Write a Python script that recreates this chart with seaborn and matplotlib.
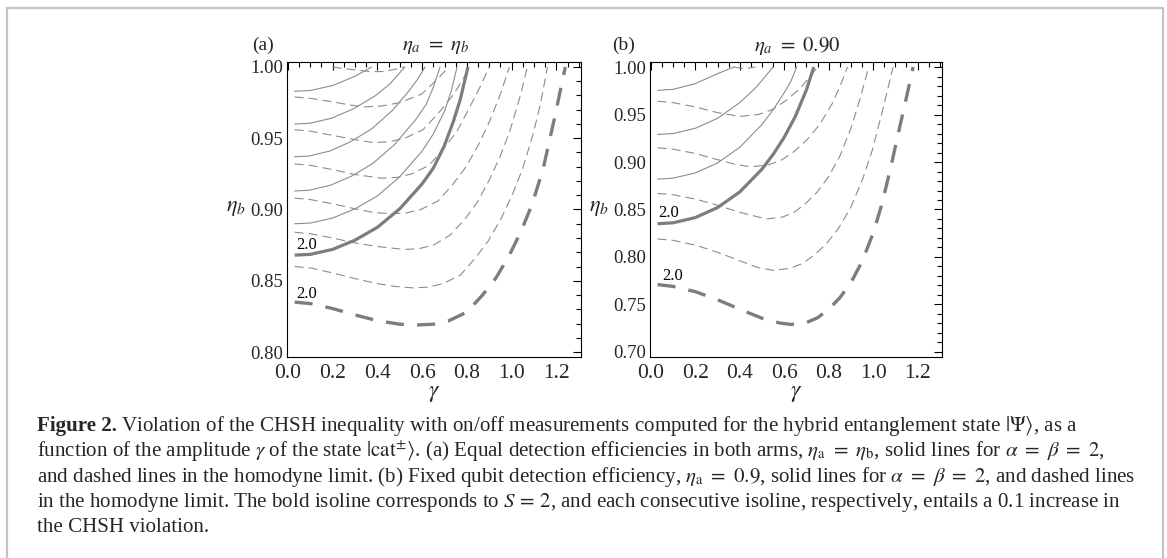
import numpy as np
import pandas as pd
import matplotlib
matplotlib.use("Agg")
import matplotlib.pyplot as plt
import seaborn as sns
from matplotlib.lines import Line2D

sns.set_theme(style="white")
plt.rcParams['font.family'] = ['Liberation Serif', 'DejaVu Serif']
plt.rcParams['mathtext.fontset'] = 'stix'
plt.rcParams['lines.scale_dashes'] = False

# ---------------- data (gamma, eta_b) ----------------
# panel (a): eta_a = eta_b ; solid = alpha=beta=2 ; dashed = homodyne limit
a_solid_20 = [(0.03, 0.868), (0.10, 0.8685), (0.20, 0.872), (0.30, 0.8785), (0.40, 0.8875),
              (0.50, 0.9005), (0.60, 0.918), (0.65, 0.929), (0.70, 0.945), (0.74, 0.962),
              (0.77, 0.977), (0.805, 1.0)]
a_solid_21 = [(0.03, 0.890), (0.10, 0.8905), (0.20, 0.894), (0.30, 0.9005), (0.40, 0.9095),
              (0.50, 0.923), (0.60, 0.941), (0.65, 0.953), (0.70, 0.969), (0.73, 0.983),
              (0.756, 1.0)]
a_solid_22 = [(0.03, 0.913), (0.095, 0.9135), (0.19, 0.917), (0.286, 0.9235), (0.381, 0.9325),
              (0.476, 0.9455), (0.571, 0.963), (0.619, 0.974), (0.648, 0.985), (0.68, 1.0)]
a_solid_23 = [(0.03, 0.937), (0.093, 0.9375), (0.187, 0.941), (0.28, 0.9475), (0.374, 0.9565),
              (0.467, 0.9695), (0.54, 0.983), (0.58, 0.9915), (0.613, 1.0)]
a_solid_24 = [(0.03, 0.960), (0.097, 0.9605), (0.194, 0.964), (0.291, 0.9705), (0.388, 0.9795),
              (0.455, 0.988), (0.523, 1.0)]
a_solid_25 = [(0.03, 0.983), (0.10, 0.9835), (0.20, 0.987), (0.30, 0.9935), (0.375, 1.0)]

a_dash_20 = [(0.03, 0.835), (0.10, 0.834), (0.20, 0.8305), (0.30, 0.826), (0.40, 0.822),
             (0.50, 0.8195), (0.58, 0.819), (0.65, 0.8195), (0.72, 0.822), (0.80, 0.828),
             (0.87, 0.840), (0.93, 0.852), (0.99, 0.868), (1.04, 0.884), (1.09, 0.903),
             (1.14, 0.928), (1.19, 0.963), (1.24, 1.0)]
a_dash_21 = [(0.03, 0.860), (0.10, 0.859), (0.20, 0.8555), (0.30, 0.8515), (0.40, 0.848),
             (0.48, 0.846), (0.56, 0.845), (0.627, 0.8455), (0.694, 0.848), (0.771, 0.854),
             (0.838, 0.866), (0.896, 0.878), (0.954, 0.894), (1.002, 0.910), (1.05, 0.929),
             (1.098, 0.954), (1.13, 0.975), (1.16, 1.0)]
a_dash_22 = [(0.03, 0.884), (0.10, 0.883), (0.20, 0.880), (0.30, 0.8765), (0.40, 0.874),
             (0.52, 0.872), (0.585, 0.8725), (0.65, 0.875), (0.725, 0.882), (0.79, 0.893),
             (0.846, 0.905), (0.901, 0.921), (0.948, 0.937), (0.994, 0.956), (1.041, 0.981),
             (1.07, 1.0)]
a_dash_23 = [(0.03, 0.908), (0.10, 0.907), (0.20, 0.904), (0.30, 0.9005), (0.38, 0.898),
             (0.46, 0.897), (0.527, 0.8975), (0.594, 0.900), (0.671, 0.906), (0.739, 0.918),
             (0.796, 0.930), (0.854, 0.946), (0.902, 0.962), (0.95, 0.981), (0.99, 1.0)]
a_dash_24 = [(0.03, 0.932), (0.10, 0.931), (0.20, 0.928), (0.30, 0.9245), (0.42, 0.922),
             (0.487, 0.9225), (0.554, 0.925), (0.631, 0.931), (0.698, 0.943), (0.756, 0.955),
             (0.81, 0.971), (0.862, 0.987), (0.90, 1.0)]
a_dash_25 = [(0.03, 0.956), (0.10, 0.955), (0.20, 0.952), (0.30, 0.949), (0.38, 0.947),
             (0.451, 0.9475), (0.523, 0.950), (0.604, 0.956), (0.675, 0.968), (0.737, 0.980),
             (0.785, 0.992), (0.81, 1.0)]
a_dash_26 = [(0.03, 0.979), (0.10, 0.978), (0.20, 0.9755), (0.33, 0.972), (0.415, 0.9725),
             (0.50, 0.975), (0.598, 0.981), (0.665, 0.991), (0.72, 1.0)]
a_dash_27 = [(0.20, 1.0), (0.25, 0.9988), (0.30, 0.998), (0.37, 0.9967), (0.42, 0.9968),
             (0.47, 0.998), (0.52, 1.0)]

# panel (b): eta_a = 0.90
b_solid_20 = [(0.03, 0.835), (0.10, 0.836), (0.20, 0.8415), (0.30, 0.852), (0.40, 0.8685),
              (0.50, 0.8925), (0.55, 0.908), (0.60, 0.926), (0.65, 0.948), (0.70, 0.976),
              (0.733, 1.0)]
b_solid_21 = [(0.03, 0.882), (0.10, 0.883), (0.20, 0.8885), (0.30, 0.899), (0.40, 0.9155),
              (0.50, 0.9395), (0.55, 0.955), (0.60, 0.973), (0.63, 0.985), (0.656, 1.0)]
b_solid_22 = [(0.03, 0.929), (0.10, 0.930), (0.20, 0.9355), (0.30, 0.946), (0.40, 0.9625),
              (0.475, 0.979), (0.55, 1.0)]
b_solid_23 = [(0.03, 0.9755), (0.10, 0.9765), (0.20, 0.9825), (0.30, 0.993), (0.373, 1.0)]

b_dash_20 = [(0.03, 0.771), (0.10, 0.769), (0.20, 0.7635), (0.30, 0.755), (0.40, 0.745),
             (0.50, 0.7355), (0.58, 0.7305), (0.63, 0.729), (0.70, 0.731), (0.75, 0.736),
             (0.80, 0.745), (0.85, 0.757), (0.90, 0.773), (0.95, 0.795), (1.00, 0.825),
             (1.04, 0.856), (1.08, 0.895), (1.12, 0.937), (1.15, 0.968), (1.18, 1.0)]
b_dash_21 = [(0.03, 0.819), (0.10, 0.8175), (0.20, 0.8125), (0.30, 0.805), (0.40, 0.796),
             (0.48, 0.789), (0.55, 0.786), (0.626, 0.788), (0.681, 0.793), (0.735, 0.802),
             (0.79, 0.814), (0.844, 0.830), (0.899, 0.852), (0.953, 0.882), (0.997, 0.913),
             (1.04, 0.952), (1.09, 1.0)]
b_dash_22 = [(0.03, 0.867), (0.10, 0.8655), (0.20, 0.861), (0.30, 0.8545), (0.40, 0.847),
             (0.52, 0.840), (0.592, 0.842), (0.644, 0.847), (0.695, 0.856), (0.747, 0.868),
             (0.798, 0.884), (0.85, 0.906), (0.901, 0.936), (0.942, 0.967), (0.98, 1.0)]
b_dash_23 = [(0.03, 0.915), (0.10, 0.9135), (0.20, 0.909), (0.30, 0.9025), (0.38, 0.8975),
             (0.45, 0.895), (0.53, 0.897), (0.587, 0.902), (0.644, 0.911), (0.701, 0.923),
             (0.758, 0.939), (0.815, 0.961), (0.855, 0.982), (0.885, 1.0)]
b_dash_24 = [(0.03, 0.964), (0.10, 0.9625), (0.20, 0.958), (0.30, 0.952), (0.40, 0.948),
             (0.484, 0.950), (0.544, 0.955), (0.604, 0.964), (0.664, 0.976), (0.71, 0.988),
             (0.75, 1.0)]
b_dash_25 = [(0.373, 1.0), (0.40, 0.999), (0.42, 0.9985), (0.445, 0.999), (0.47, 1.0)]

# label positions of the "2.0" contour labels
a_labels = [(0.085, 0.875), (0.085, 0.841)]
b_labels = [(0.08, 0.846), (0.10, 0.780)]

# ---------------- figure ----------------
W, H = 1167, 558
fig = plt.figure(figsize=(W / 100, H / 100), dpi=100)
fig.patch.set_facecolor('white')


def fx(px):
    return px / W


def fy(py):
    return 1 - py / H


THIN = '#8c8c8c'
BOLD = '#7d7d7d'


def draw(ax, pts, kind):
    g = [p[0] for p in pts]
    e = [p[1] for p in pts]
    df = pd.DataFrame({'g': g, 'e': e})
    if kind == 'solid':
        sns.lineplot(data=df, x='g', y='e', sort=False, estimator=None, ax=ax,
                     color=THIN, linewidth=0.8)
    elif kind == 'bold':
        sns.lineplot(data=df, x='g', y='e', sort=False, estimator=None, ax=ax,
                     color=BOLD, linewidth=2.3, solid_capstyle='butt')
    elif kind == 'dash':
        sns.lineplot(data=df, x='g', y='e', sort=False, estimator=None, ax=ax,
                     color=THIN, linewidth=0.8)
        ax.lines[-1].set_dashes((6.5, 3.6))
    elif kind == 'bolddash':
        sns.lineplot(data=df, x='g', y='e', sort=False, estimator=None, ax=ax,
                     color=BOLD, linewidth=2.4)
        ax.lines[-1].set_dashes((13, 9.5))
        ax.lines[-1].set_dash_capstyle('butt')


def style_axes(ax, ylim, ymajor, yminor):
    ax.set_xlim(-0.004, 1.31)
    ax.set_ylim(*ylim)
    ax.set_xticks(np.arange(0, 1.21, 0.2))
    ax.set_xticks(np.arange(0, 1.31, 0.05), minor=True)
    ax.set_yticks(ymajor)
    ax.set_yticks(yminor, minor=True)
    ax.set_xticklabels([f"{v:.1f}" for v in np.arange(0, 1.21, 0.2)], fontsize=15.5)
    ax.set_yticklabels([f"{v:.2f}" for v in ymajor], fontsize=13.5)
    ax.tick_params(which='both', direction='in', top=True, right=True, color='black',
                   width=0.8)
    ax.tick_params(which='major', length=6)
    ax.tick_params(which='minor', length=3.5)
    ax.tick_params(axis='y', pad=3)
    ax.tick_params(axis='x', pad=5)
    for s in ax.spines.values():
        s.set_color('black')
        s.set_linewidth(0.8)
    ax.set_xlabel('')
    ax.set_ylabel('')
    ax.grid(False)
    ax.set_facecolor('white')


ax_a = fig.add_axes([fx(287), fy(357), fx(581) - fx(287), fy(62) - fy(357)])
ax_b = fig.add_axes([fx(650), fy(357), fx(942) - fx(650), fy(62) - fy(357)])

for pts in [a_solid_21, a_solid_22, a_solid_23, a_solid_24, a_solid_25]:
    draw(ax_a, pts, 'solid')
for pts in [a_dash_21, a_dash_22, a_dash_23, a_dash_24, a_dash_25, a_dash_26, a_dash_27]:
    draw(ax_a, pts, 'dash')
draw(ax_a, a_solid_20, 'bold')
draw(ax_a, a_dash_20, 'bolddash')

for pts in [b_solid_21, b_solid_22, b_solid_23]:
    draw(ax_b, pts, 'solid')
for pts in [b_dash_21, b_dash_22, b_dash_23, b_dash_24, b_dash_25]:
    draw(ax_b, pts, 'dash')
draw(ax_b, b_solid_20, 'bold')
draw(ax_b, b_dash_20, 'bolddash')

style_axes(ax_a, (0.7965, 1.0035), np.arange(0.80, 1.001, 0.05), np.arange(0.80, 1.001, 0.01))
style_axes(ax_b, (0.6947, 1.0053), np.arange(0.70, 1.001, 0.05), np.arange(0.70, 1.001, 0.01))

for ax, labs in [(ax_a, a_labels), (ax_b, b_labels)]:
    for (gx, ey) in labs:
        ax.text(gx, ey, '2.0', fontsize=12, ha='center', va='center', color='black')

# titles, panel letters, axis labels
fig.text(fx(436), fy(46), r'$\eta_a\ =\ \eta_b$', fontsize=15, ha='center', va='center')
fig.text(fx(797), fy(46), r'$\eta_a\ =\ 0.90$', fontsize=15, ha='center', va='center')
fig.text(fx(263), fy(45), '(a)', fontsize=14, ha='center', va='center')
fig.text(fx(624), fy(45), '(b)', fontsize=14, ha='center', va='center')
fig.text(fx(236), fy(209), r'$\eta_b$', fontsize=16, ha='center', va='center')
fig.text(fx(599), fy(209), r'$\eta_b$', fontsize=16, ha='center', va='center')
fig.text(fx(434), fy(394), r'$\gamma$', fontsize=17, ha='center', va='center')
fig.text(fx(796), fy(394), r'$\gamma$', fontsize=17, ha='center', va='center')

# outer frame
for (x0, y0, x1, y1) in [(7, 8, 1163, 8), (7, 8, 7, 558), (1163, 8, 1163, 558)]:
    fig.add_artist(Line2D([fx(x0), fx(x1)], [fy(y0), fy(y1)], color='#c4c4c4',
                          linewidth=1.6, transform=fig.transFigure))

# caption
CAP = 15.1
x0 = fx(37)
bold = fig.text(x0, fy(431), 'Figure 2.', fontsize=CAP, fontweight='bold', ha='left',
                va='baseline')
fig.canvas.draw()
bb = bold.get_window_extent()
fig.text(fx(bb.x1 + 4), fy(431),
         r'Violation of the CHSH inequality with on/off measurements computed for the hybrid '
         r'entanglement state $|\Psi\rangle$, as a', fontsize=CAP, ha='left', va='baseline')
lines = [
    r'function of the amplitude $\gamma$ of the state $|\mathrm{cat}^{\pm}\rangle$. (a) Equal detection '
    r'efficiencies in both arms, $\eta_\mathrm{a}\ =\ \eta_\mathrm{b}$, solid lines for $\alpha\ =\ \beta\ =\ 2$,',
    r'and dashed lines in the homodyne limit. (b) Fixed qubit detection efficiency, '
    r'$\eta_\mathrm{a}\ =\ 0.9$, solid lines for $\alpha\ =\ \beta\ =\ 2$, and dashed lines',
    r'in the homodyne limit. The bold isoline corresponds to $S\,=\,2$, and each consecutive '
    r'isoline, respectively, entails a 0.1 increase in',
    r'the CHSH violation.',
]
for i, t in enumerate(lines):
    fig.text(x0, fy(456.5 + 25.3 * i), t, fontsize=CAP, ha='left', va='baseline')

fig.savefig('out.png', dpi=100, facecolor='white')
